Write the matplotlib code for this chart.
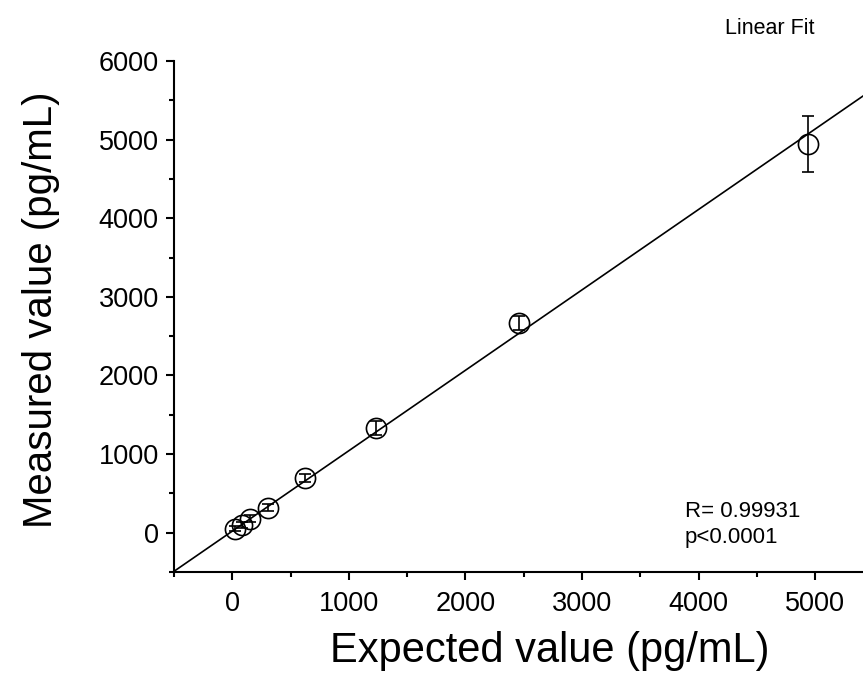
import matplotlib
matplotlib.use("Agg")
import matplotlib.pyplot as plt
from matplotlib.ticker import MultipleLocator

plt.rcParams['font.family'] = ['Liberation Sans', 'DejaVu Sans']

expected = [20, 80, 155, 310, 620, 1235, 2460, 4935]
measured = [50, 100, 180, 320, 700, 1335, 2665, 4945]
errors = [30, 40, 40, 50, 50, 90, 90, 360]
fit_slope = 1.023
fit_intercept = 20
x_ticks = [0, 1000, 2000, 3000, 4000, 5000]
y_ticks = [0, 1000, 2000, 3000, 4000, 5000, 6000]

fig = plt.figure(figsize=(8.63, 6.75), dpi=100)
ax = fig.add_axes([174/863, 103/675, 1 - 174/863, (572-61)/675])

xlim = (-500, 5410)
ylim = (-500, 6000)
ax.plot(list(xlim), [fit_intercept + fit_slope*v for v in xlim], color='black', lw=1.2, zorder=2)
ax.errorbar(expected, measured, yerr=errors, fmt='o', mfc='none', mec='black', ms=14.5,
            mew=1.2, ecolor='black', elinewidth=1.2, capsize=4.5, capthick=1.2, zorder=3)

ax.set_xlim(*xlim)
ax.set_ylim(*ylim)
ax.set_xticks(x_ticks)
ax.set_yticks(y_ticks)
ax.xaxis.set_minor_locator(MultipleLocator(500))
ax.yaxis.set_minor_locator(MultipleLocator(500))
for s in ['top', 'right']:
    ax.spines[s].set_visible(False)
for s in ['left', 'bottom']:
    ax.spines[s].set_linewidth(1.5)
ax.tick_params(which='major', length=6, width=1.5, labelsize=19.5, direction='out', pad=5)
ax.tick_params(axis='x', which='major', pad=8)
ax.tick_params(which='minor', length=3.5, width=1.5, direction='out')
ax.set_xlabel('Expected value (pg/mL)', fontsize=30, labelpad=10, x=(550-174)/689)
ax.set_ylabel('Measured value (pg/mL)', fontsize=29, labelpad=28, y=(572-310)/511)

fig.text(770/863, 1 - 28/675, 'Linear Fit', fontsize=15.5, ha='center', va='center')
fig.text(685/863, 1 - 501/675, 'R= 0.99931\np<0.0001', fontsize=16, ha='left', va='top',
         linespacing=1.3)

fig.savefig('out.png', dpi=100)
